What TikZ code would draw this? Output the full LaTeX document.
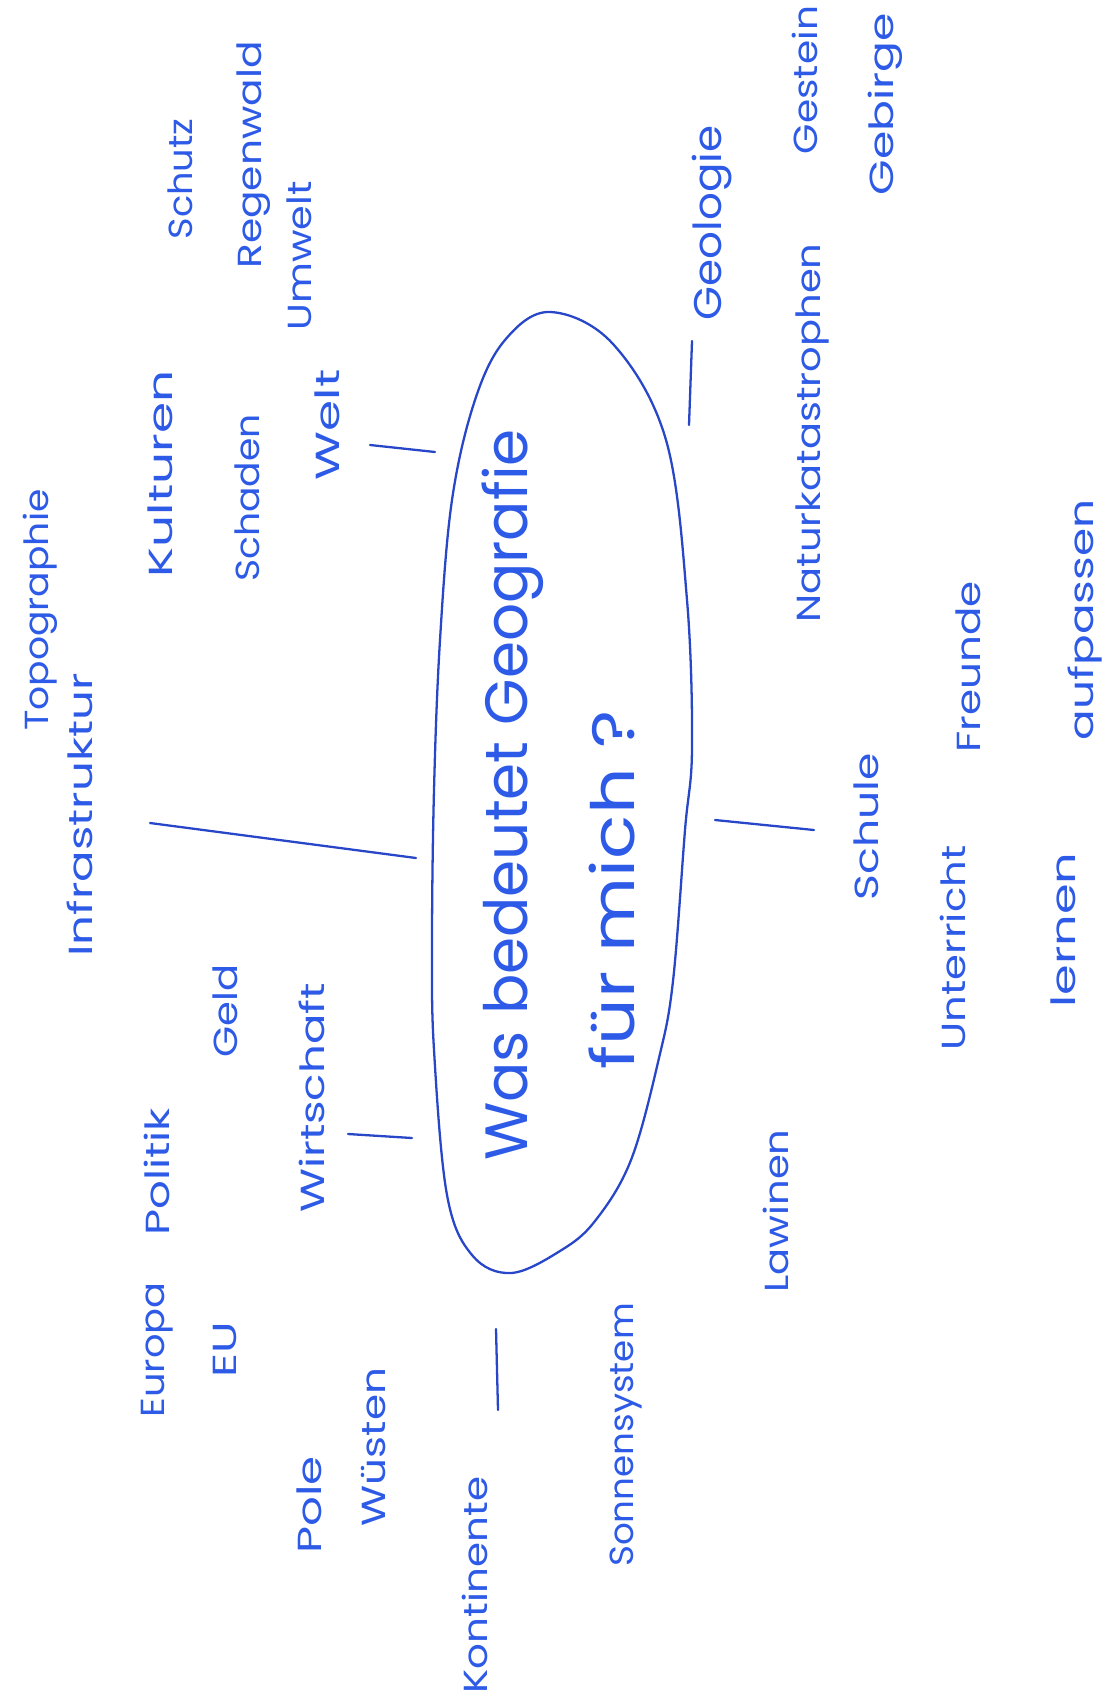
\documentclass[tikz,border=0pt]{standalone}
\usepackage{fontspec}
\setmainfont{Poppins}
\usetikzlibrary{positioning}
\definecolor{inkblue}{RGB}{45,90,230}
\definecolor{penblue}{RGB}{40,70,200}
% handwriting runs wider than the font
\newcommand{\handw}[2]{\scalebox{#1}[1]{#2}}

\begin{document}
\begin{tikzpicture}[x=0.02cm, y=-0.02cm,
    word/.style={rotate=90, inner sep=0pt, text=inkblue, font=\fontsize{19}{22}\selectfont},
    bigword/.style={word, font=\fontsize{34}{38}\selectfont},
    stroke/.style={penblue, line width=1.3pt, line cap=round}]
  \useasboundingbox (0,0) rectangle (1113,1706);
  % --- centre ---
  \draw[stroke] plot[smooth cycle, tension=0.6] coordinates
    {(550,312) (613,344) (666,440) (687,600) (692,748) (685,830) (673,981)
     (659,1058) (631,1160) (595,1221) (560,1251) (511,1273) (472,1255)
     (447,1195) (434,1050) (432,945) (434,790) (440,640) (452,500) (475,400) (505,340)};
  \node[bigword] (frage) at (513,795) {Was bedeutet Geografie};
  \node[bigword] (mich) at (612,890) {\handw{1.22}{für mich ?}};
  % --- top left ---
  \node[word] (topo) at (40,610) {\handw{1.13}{Topographie}};
  \node[word] (infra) at (80,815) {\handw{1.4}{Infrastruktur}};
  \node[word] (kult) at (160,474) {\handw{1.5}{Kulturen}};
  \node[word] (schutz) at (180,179) {\handw{1.1}{Schutz}};
  \node[word] (regen) at (254,155) {\handw{1.22}{Regenwald}};
  \node[word] (umwelt) at (299,256) {\handw{1.19}{Umwelt}};
  \node[word] (schaden) at (247,498) {\handw{1.13}{Schaden}};
  \node[word] (welt) at (327,425) {\handw{1.5}{Welt}};
  % --- top right ---
  \node[word, font=\fontsize{22}{26}\selectfont] (geologie) at (712,223) {\handw{1.13}{Geologie}};
  \node[word] (gestein) at (805,80) {\handw{1.17}{Gestein}};
  \node[word] (gebirge) at (885,104) {\handw{1.37}{Gebirge}};
  \node[word] (natur) at (812,433) {\handw{1.2}{Naturkatastrophen}};
  % --- bottom right ---
  \node[word] (freunde) at (968,667) {\handw{1.26}{Freunde}};
  \node[word] (auf) at (1085,620) {\handw{1.36}{aufpassen}};
  \node[word] (schule) at (866,827) {\handw{1.32}{Schule}};
  \node[word] (unterricht) at (953,948) {\handw{1.25}{Unterricht}};
  \node[word] (lernen) at (1063,930) {\handw{1.48}{lernen}};
  \node[word] (lawinen) at (776,1211) {\handw{1.2}{Lawinen}};
  \node[word] (sonnen) at (626,1435) {\handw{1.07}{Sonnensystem}};
  % --- bottom left ---
  \node[word] (kontinente) at (475,1585) {\handw{1.21}{Kontinente}};
  \node[word] (wuesten) at (374,1447) {\handw{1.26}{Wüsten}};
  \node[word] (pole) at (309,1505) {\handw{1.4}{Pole}};
  \node[word] (europa) at (157,1350) {\handw{1.15}{Europa}};
  \node[word] (eu) at (225,1350) {\handw{1.4}{EU}};
  \node[word] (politik) at (157,1172) {\handw{1.35}{Politik}};
  \node[word] (geld) at (225,1011) {\handw{1.2}{Geld}};
  \node[word] (wirtschaft) at (312,1098) {\handw{1.35}{Wirtschaft}};
  % --- dashes ---
  \coordinate (i1) at (150,823);  \coordinate (i2) at (416,858);
  \coordinate (w1) at (370,445);  \coordinate (w2) at (435,452);
  \coordinate (g1) at (692,341);  \coordinate (g2) at (689,425);
  \coordinate (s1) at (715,820);  \coordinate (s2) at (814,830);
  \coordinate (r1) at (348,1134); \coordinate (r2) at (412,1138);
  \coordinate (k1) at (496,1329); \coordinate (k2) at (498,1410);
  \draw[stroke] (i1) -- (i2);
  \draw[stroke] (w1) -- (w2);
  \draw[stroke] (g1) -- (g2);
  \draw[stroke] (s1) -- (s2);
  \draw[stroke] (r1) -- (r2);
  \draw[stroke] (k1) -- (k2);
\end{tikzpicture}
\end{document}
